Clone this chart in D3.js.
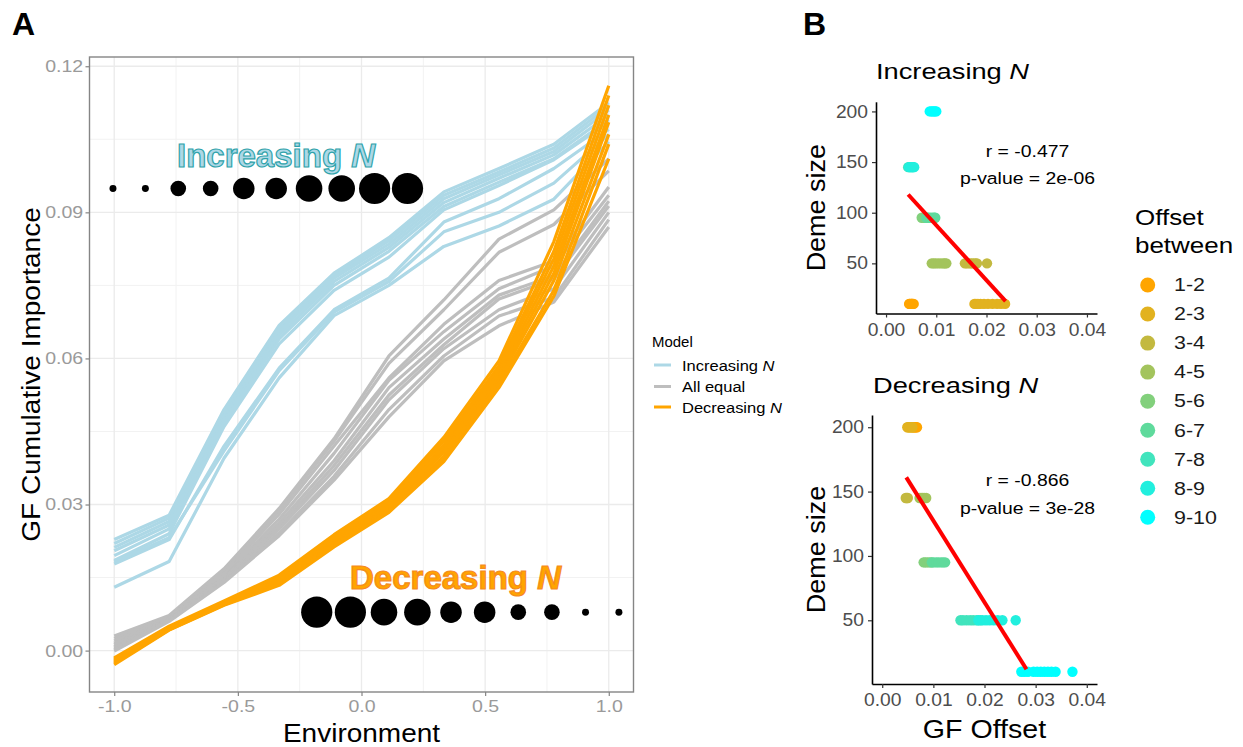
<!DOCTYPE html>
<html>
<head>
<meta charset="utf-8">
<script src="https://cdn.jsdelivr.net/npm/d3@7"></script>
<style>
  body { margin: 0; background: #fff; }
  text { font-family: "Liberation Sans", Arial, sans-serif; }
</style>
</head>
<body>
<div id="chart"></div>
<script>
// ---- Panel A data: GF cumulative importance along the environment ----
const envX = [-1, -0.778, -0.556, -0.333, -0.111, 0.111, 0.333, 0.556, 0.778, 1];

const increasingCurves = [
  [0.0228, 0.0278, 0.0495, 0.0668, 0.0775, 0.0848, 0.0942, 0.0990, 0.1040, 0.1125],
  [0.0220, 0.0272, 0.0490, 0.0662, 0.0770, 0.0842, 0.0935, 0.0983, 0.1032, 0.1118],
  [0.0212, 0.0265, 0.0482, 0.0655, 0.0765, 0.0835, 0.0928, 0.0977, 0.1025, 0.1110],
  [0.0205, 0.0258, 0.0475, 0.0648, 0.0758, 0.0828, 0.0920, 0.0970, 0.1018, 0.1100],
  [0.0195, 0.0250, 0.0468, 0.0640, 0.0750, 0.0820, 0.0912, 0.0962, 0.1010, 0.1090],
  [0.0185, 0.0240, 0.0460, 0.0630, 0.0740, 0.0808, 0.0905, 0.0955, 0.1008, 0.1085],
  [0.0178, 0.0228, 0.0420, 0.0580, 0.0700, 0.0765, 0.0880, 0.0928, 0.0990, 0.1070],
  [0.0182, 0.0232, 0.0410, 0.0575, 0.0695, 0.0758, 0.0860, 0.0900, 0.0960, 0.1060],
  [0.0130, 0.0183, 0.0395, 0.0560, 0.0688, 0.0750, 0.0830, 0.0872, 0.0927, 0.1045]
];
const equalCurves = [
  [0.0030, 0.0072, 0.0168, 0.0292, 0.0435, 0.0605, 0.0720, 0.0845, 0.0905, 0.1010],
  [0.0025, 0.0070, 0.0165, 0.0288, 0.0430, 0.0590, 0.0700, 0.0818, 0.0875, 0.0985],
  [0.0020, 0.0068, 0.0160, 0.0280, 0.0420, 0.0560, 0.0670, 0.0760, 0.0800, 0.0952],
  [0.0015, 0.0066, 0.0155, 0.0270, 0.0405, 0.0555, 0.0655, 0.0743, 0.0790, 0.0935],
  [0.0012, 0.0065, 0.0150, 0.0262, 0.0390, 0.0540, 0.0640, 0.0730, 0.0770, 0.0923],
  [0.0008, 0.0064, 0.0148, 0.0255, 0.0380, 0.0525, 0.0628, 0.0722, 0.0763, 0.0913],
  [0.0005, 0.0063, 0.0145, 0.0250, 0.0370, 0.0515, 0.0620, 0.0700, 0.0743, 0.0900],
  [0.0002, 0.0062, 0.0142, 0.0242, 0.0358, 0.0495, 0.0605, 0.0687, 0.0725, 0.0885],
  [-0.0001, 0.0060, 0.0140, 0.0236, 0.0350, 0.0480, 0.0595, 0.0667, 0.0716, 0.0870]
];
const decreasingCurves = [
  [-0.0015, 0.0050, 0.0102, 0.0155, 0.0238, 0.0312, 0.0438, 0.0595, 0.0840, 0.1160],
  [-0.0017, 0.0048, 0.0100, 0.0152, 0.0234, 0.0308, 0.0430, 0.0585, 0.0820, 0.1140],
  [-0.0019, 0.0047, 0.0099, 0.0149, 0.0230, 0.0303, 0.0422, 0.0578, 0.0805, 0.1120],
  [-0.0021, 0.0046, 0.0097, 0.0146, 0.0226, 0.0298, 0.0415, 0.0570, 0.0790, 0.1100],
  [-0.0023, 0.0045, 0.0096, 0.0143, 0.0222, 0.0294, 0.0408, 0.0562, 0.0775, 0.1085],
  [-0.0025, 0.0044, 0.0095, 0.0140, 0.0218, 0.0290, 0.0400, 0.0555, 0.0760, 0.1060],
  [-0.0027, 0.0043, 0.0094, 0.0137, 0.0215, 0.0287, 0.0395, 0.0548, 0.0740, 0.1040],
  [-0.0029, 0.0042, 0.0093, 0.0134, 0.0213, 0.0284, 0.0388, 0.0540, 0.0728, 0.1010]
];

const modelNames = ["Increasing ", "All equal", "Decreasing "];
const modelColors = ["#add8e6", "#bebebe", "#ffa500"];

const xTicksA = [-1, -0.5, 0, 0.5, 1];
const xMinorA = [-0.75, -0.25, 0.25, 0.75];
const yTicksA = [0, 0.03, 0.06, 0.09, 0.12];
const yMinorA = [0.015, 0.045, 0.075, 0.105];

// deme-size dots drawn over panel A
const incDotX = [-1.005, -0.874, -0.741, -0.610, -0.476, -0.345, -0.212, -0.080, 0.053, 0.186];
const incDotSize = [10, 10, 50, 50, 95, 95, 145, 145, 200, 200];
const decDotX = [-0.181, -0.045, 0.091, 0.226, 0.362, 0.498, 0.634, 0.770, 0.906, 1.041];
const decDotSize = [200, 200, 145, 145, 95, 95, 50, 50, 10, 10];

// ---- Panel B data: GF offset between neighbouring demes ----
const pairLabels = ["1-2", "2-3", "3-4", "4-5", "5-6", "6-7", "7-8", "8-9", "9-10"];
const pairColors = ["#ffa500", "#e2b21f", "#c3b93f", "#a3c45d", "#82d07c", "#5fda9c", "#41e4bd", "#21efde", "#00ffff"];
const yTicksB = [50, 100, 150, 200];
const xTicksB = [0, 0.01, 0.02, 0.03, 0.04];

const incPairSize = [10, 10, 50, 50, 95, 95, 145, 145, 200];
const incOffsets = [
  [0.0046, 0.0047, 0.0049, 0.0050, 0.0051, 0.0052, 0.0053, 0.0055],
  [0.0176, 0.0179, 0.0183, 0.0188, 0.0195, 0.0203, 0.0212, 0.0221, 0.0229, 0.0237],
  [0.0157, 0.0161, 0.0166, 0.0170, 0.0174, 0.0178, 0.0181, 0.0201],
  [0.0091, 0.0095, 0.0099, 0.0104, 0.0109, 0.0114, 0.0117, 0.0120],
  [0.0071, 0.0075, 0.0079, 0.0083],
  [0.0080, 0.0085, 0.0089, 0.0093, 0.0096, 0.0098],
  [0.0044, 0.0047, 0.0050, 0.0053],
  [0.0046, 0.0049, 0.0052, 0.0054, 0.0056],
  [0.0087, 0.0090, 0.0093, 0.0095, 0.0098, 0.0100]
];
const incFitX = [0.0044, 0.0238];
const incFitY = [118, 12.7];
const incStats = ["r = -0.477", "p-value = 2e-06"];

const decPairSize = [200, 200, 145, 145, 95, 95, 50, 50, 10];
const decOffsets = [
  [0.0060, 0.0062, 0.0064, 0.0066, 0.0068],
  [0.0049, 0.0051, 0.0053, 0.0055, 0.0057, 0.0059],
  [0.0046, 0.0048, 0.0050],
  [0.0073, 0.0076, 0.0079, 0.0082, 0.0086],
  [0.0081, 0.0084, 0.0088, 0.0092, 0.0096],
  [0.0097, 0.0101, 0.0106, 0.0110, 0.0115, 0.0119, 0.0123],
  [0.0153, 0.0158, 0.0165, 0.0172, 0.0178, 0.0185, 0.0192],
  [0.0188, 0.0196, 0.0203, 0.0210, 0.0218, 0.0226, 0.0235, 0.0261],
  [0.0272, 0.0278, 0.0285, 0.0296, 0.0303, 0.0310, 0.0317, 0.0324, 0.0331, 0.0339, 0.0372]
];
const decFitX = [0.0047, 0.0282];
const decFitY = [161, 12];
const decStats = ["r = -0.866", "p-value = 3e-28"];

// ---------------------------------------------------------------
const svg = d3.select("#chart").append("svg")
  .attr("width", 1243)
  .attr("height", 747);
svg.append("rect").attr("width", 1243).attr("height", 747).attr("fill", "#fff");

// text helper: parts are strings or {i: "..."} for italic pieces, sx stretches horizontally
function label(parent, x, y, parts, size, sx, rotate) {
  const t = parent.append("text")
    .attr("transform", `translate(${x},${y})` + (rotate ? ` rotate(${rotate})` : "") + ` scale(${sx},1)`)
    .style("font-size", size + "px");
  [].concat(parts).forEach(p => {
    if (typeof p === "string") t.append("tspan").text(p);
    else t.append("tspan").style("font-style", "italic").text(p.i);
  });
  return t;
}

// panel letters
label(svg, 12, 35, "A", 32, 1).style("font-weight", "bold");
label(svg, 803, 35, "B", 32, 1).style("font-weight", "bold");

// ================= Panel A =================
const pa = { left: 89.5, top: 57, right: 633.5, bottom: 692 };
const xA = d3.scaleLinear().domain([-1.1, 1.1]).range([pa.left, pa.right]);
const yA = d3.scaleLinear().domain([-0.0085, 0.1219]).range([pa.bottom, pa.top]);

const gA = svg.append("g");

// grid
gA.selectAll(".vminor").data(xMinorA).enter().append("line")
  .attr("x1", d => xA(d)).attr("x2", d => xA(d))
  .attr("y1", pa.top).attr("y2", pa.bottom)
  .attr("stroke", "#f2f2f2").attr("stroke-width", 1);
gA.selectAll(".hminor").data(yMinorA).enter().append("line")
  .attr("x1", pa.left).attr("x2", pa.right)
  .attr("y1", d => yA(d)).attr("y2", d => yA(d))
  .attr("stroke", "#f2f2f2").attr("stroke-width", 1);
gA.selectAll(".vmajor").data(xTicksA).enter().append("line")
  .attr("x1", d => xA(d)).attr("x2", d => xA(d))
  .attr("y1", pa.top).attr("y2", pa.bottom)
  .attr("stroke", "#ebebeb").attr("stroke-width", 1.3);
gA.selectAll(".hmajor").data(yTicksA).enter().append("line")
  .attr("x1", pa.left).attr("x2", pa.right)
  .attr("y1", d => yA(d)).attr("y2", d => yA(d))
  .attr("stroke", "#ebebeb").attr("stroke-width", 1.3);

// curves
const curve = d3.line()
  .x((d, i) => xA(envX[i]))
  .y(d => yA(d));

[increasingCurves, equalCurves, decreasingCurves].forEach((set, k) => {
  gA.append("g").selectAll("path")
    .data(set)
    .enter()
    .append("path")
      .attr("d", curve)
      .attr("fill", "none")
      .attr("stroke", modelColors[k])
      .attr("stroke-width", 3.2)
      .attr("stroke-linejoin", "round");
});

// deme size dots
const rSize = d3.scaleSqrt().domain([0, 200]).range([0, 15.6]);
gA.selectAll(".incdot").data(incDotX).enter().append("circle")
  .attr("cx", d => xA(d)).attr("cy", yA(0.0949))
  .attr("r", (d, i) => rSize(incDotSize[i]))
  .attr("fill", "#000");
gA.selectAll(".decdot").data(decDotX).enter().append("circle")
  .attr("cx", d => xA(d)).attr("cy", yA(0.0079))
  .attr("r", (d, i) => rSize(decDotSize[i]))
  .attr("fill", "#000");

// outlined annotation text
label(gA, 276, 167, ["Increasing ", {i: "N"}], 33, 1)
  .attr("text-anchor", "middle")
  .style("font-weight", "bold")
  .attr("fill", "#add8e6")
  .attr("stroke", "#2fa3ab")
  .attr("stroke-width", 1.2);
label(gA, 455.5, 589, ["Decreasing ", {i: "N"}], 33, 1)
  .attr("text-anchor", "middle")
  .style("font-weight", "bold")
  .attr("fill", "#ffa500")
  .attr("stroke", "#f58a1f")
  .attr("stroke-width", 1.2);

// panel border
gA.append("rect")
  .attr("x", pa.left).attr("y", pa.top)
  .attr("width", pa.right - pa.left).attr("height", pa.bottom - pa.top)
  .attr("fill", "none").attr("stroke", "#858585").attr("stroke-width", 1.4);

// axes
const axYA = gA.append("g")
  .attr("transform", `translate(${pa.left},0)`)
  .call(d3.axisLeft(yA).tickValues(yTicksA).tickSize(4).tickFormat(d => d.toFixed(2)));
const axXA = gA.append("g")
  .attr("transform", `translate(0,${pa.bottom})`)
  .call(d3.axisBottom(xA).tickValues(xTicksA).tickSize(4).tickFormat(d => d.toFixed(1)));
[axYA, axXA].forEach(ax => {
  ax.select(".domain").remove();
  ax.selectAll(".tick line").attr("stroke", "#858585").attr("stroke-width", 1.2);
  ax.selectAll(".tick text")
    .attr("fill", "#9a9a9a")
    .style("font-size", "17px")
    .style("font-family", "'Liberation Sans', Arial, sans-serif");
});
axYA.selectAll(".tick text").attr("x", -5.5).attr("transform", "scale(1.15,1)");
axXA.selectAll(".tick text").attr("y", 8).attr("transform", "scale(1.15,1)");

label(gA, (pa.left + pa.right) / 2, 742, "Environment", 25, 1.12).attr("text-anchor", "middle");
label(gA, 40, (pa.top + pa.bottom) / 2, "GF Cumulative Importance", 25, 1.12, -90).attr("text-anchor", "middle");

// legend for models
const legA = svg.append("g").attr("transform", "translate(652,0)");
label(legA, 0, 347, "Model", 14, 1.07);
modelNames.forEach((name, i) => {
  const yy = [365, 386.5, 407][i];
  legA.append("line")
    .attr("x1", 2).attr("x2", 19)
    .attr("y1", yy).attr("y2", yy)
    .attr("stroke", modelColors[i]).attr("stroke-width", 3);
  const parts = i === 1 ? [name] : [name, {i: "N"}];
  label(legA, 30, yy + 5.5, parts, 15, 1.1);
});

// ================= Panel B =================
function offsetPanel(box, title, pairSize, offsets, fitX, fitY, stats) {
  const x = d3.scaleLinear().domain([-0.002, 0.042]).range([box.left, box.right]);
  const y = d3.scaleLinear().domain([0.5, 209.5]).range([box.bottom, box.top]);
  const g = svg.append("g");

  label(g, box.title, box.titleY, [title, {i: "N"}], 22, 1.24);

  // points, one group per deme pair
  offsets.forEach((vals, k) => {
    g.append("g").selectAll("circle")
      .data(vals)
      .enter()
      .append("circle")
        .attr("cx", d => x(d))
        .attr("cy", y(pairSize[k]))
        .attr("r", 5.2)
        .attr("fill", pairColors[k]);
  });

  // fitted line
  g.append("line")
    .attr("x1", x(fitX[0])).attr("y1", y(fitY[0]))
    .attr("x2", x(fitX[1])).attr("y2", y(fitY[1]))
    .attr("stroke", "#ff0000").attr("stroke-width", 4);

  const ax = g.append("g")
    .attr("transform", `translate(${box.left},0)`)
    .call(d3.axisLeft(y).tickValues(yTicksB).tickSize(4).tickSizeOuter(0));
  const bx = g.append("g")
    .attr("transform", `translate(0,${box.bottom})`)
    .call(d3.axisBottom(x).tickValues(xTicksB).tickSize(4).tickSizeOuter(0).tickFormat(d => d.toFixed(2)));
  [ax, bx].forEach(a => {
    a.select(".domain").attr("stroke", "#000").attr("stroke-width", 1.6);
    a.selectAll(".tick line").attr("stroke", "#333").attr("stroke-width", 1.2);
    a.selectAll(".tick text")
      .attr("fill", "#4d4d4d")
      .style("font-size", "17.5px")
      .style("font-family", "'Liberation Sans', Arial, sans-serif")
      .attr("transform", "scale(1.1,1)");
  });
  ax.selectAll(".tick text").attr("x", -7.3);
  bx.selectAll(".tick text").attr("y", 10);

  label(g, 825, (box.top + box.bottom) / 2, "Deme size", 25, 1.08, -90).attr("text-anchor", "middle");
  label(g, 1027.5, box.statY[0], stats[0], 17, 1.14).attr("text-anchor", "middle");
  label(g, 1027.5, box.statY[1], stats[1], 17, 1.14).attr("text-anchor", "middle");
  return g;
}

offsetPanel({ left: 876, right: 1097, top: 101.8, bottom: 313.5, title: 876, titleY: 79, statY: [157, 184] },
  "Increasing ", incPairSize, incOffsets, incFitX, incFitY, incStats);
const gBot = offsetPanel({ left: 872, right: 1097, top: 415, bottom: 684, title: 873, titleY: 393, statY: [486, 514] },
  "Decreasing ", decPairSize, decOffsets, decFitX, decFitY, decStats);
label(gBot, 984.5, 738, "GF Offset", 26, 1.1).attr("text-anchor", "middle");

// legend for deme pairs
const legB = svg.append("g");
label(legB, 1135, 225, "Offset", 22, 1.18);
label(legB, 1135, 253, "between", 22, 1.18);
pairLabels.forEach((lab, i) => {
  const yy = 285 + 29.04 * i;
  legB.append("circle").attr("cx", 1147.7).attr("cy", yy).attr("r", 7.5).attr("fill", pairColors[i]);
  label(legB, 1174, yy + 6.3, lab, 18, 1.19).attr("fill", "#1a1a1a");
});
</script>
</body>
</html>
